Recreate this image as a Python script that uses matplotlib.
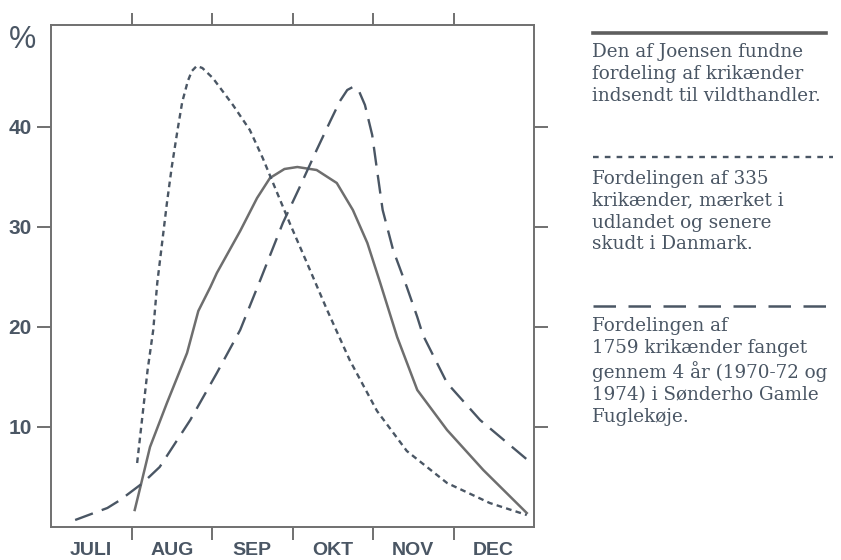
import matplotlib
matplotlib.use("Agg")
import matplotlib.pyplot as plt
from matplotlib.lines import Line2D

# x in months from 1 July (0 = start of JULI), y in %
joensen_x = [1.04, 1.11, 1.23, 1.44, 1.69, 1.83, 1.98, 2.06, 2.35, 2.56, 2.72, 2.90,
             3.06, 3.30, 3.55, 3.75, 3.93, 4.09, 4.30, 4.55, 4.92, 5.37, 5.91]
joensen_y = [1.7, 4.0, 8.0, 12.4, 17.4, 21.6, 24.0, 25.4, 29.6, 32.9, 34.9, 35.8,
             36.0, 35.7, 34.4, 31.7, 28.4, 24.4, 19.0, 13.7, 9.7, 5.7, 1.4]

marked_x = [1.07, 1.14, 1.20, 1.27, 1.32, 1.38, 1.44, 1.50, 1.57, 1.63, 1.70, 1.75,
            1.81, 1.88, 2.01, 2.26, 2.47, 2.63, 2.81, 2.97, 3.18, 3.43, 3.71, 4.05,
            4.42, 4.92, 5.45, 5.91]
marked_y = [6.4, 11.4, 15.7, 19.7, 24.4, 28.4, 32.4, 36.0, 39.6, 42.5, 44.6, 45.6,
            46.1, 45.9, 44.9, 42.2, 39.7, 36.9, 33.4, 30.3, 26.4, 21.7, 16.7, 11.6,
            7.6, 4.4, 2.4, 1.2]

fanget_x = [0.30, 0.70, 0.86, 1.14, 1.35, 1.73, 2.06, 2.35, 2.60, 2.88, 3.09, 3.30,
            3.47, 3.59, 3.68, 3.75, 3.82, 3.90, 3.99, 4.05, 4.12, 4.25, 4.42, 4.55,
            4.62, 4.92, 5.33, 5.95]
fanget_y = [0.7, 1.9, 2.7, 4.4, 6.0, 10.7, 15.4, 19.7, 24.7, 30.4, 34.0, 37.7,
            40.6, 42.6, 43.7, 44.0, 43.7, 42.2, 39.2, 35.7, 31.7, 27.7, 24.0, 21.0,
            19.2, 14.4, 10.7, 6.5]

months = ["JULI", "AUG", "SEP", "OKT", "NOV", "DEC"]
y_ticks = [10, 20, 30, 40]

legend_texts = [
    "Den af Joensen fundne\nfordeling af krikænder\nindsendt til vildthandler.",
    "Fordelingen af 335\nkrikænder, mærket i\nudlandet og senere\nskudt i Danmark.",
    "Fordelingen af\n1759 krikænder fanget\ngennem 4 år (1970-72 og\n1974) i Sønderho Gamle\nFuglekøje.",
]

frame_col = "#707070"
ink = "#4a5664"
solid_col = "#6e6e6e"

fig = plt.figure(figsize=(8.41, 5.6), dpi=100)
ax = fig.add_axes([51 / 841, 33 / 560, 483 / 841, 502 / 560])

ax.plot(joensen_x, joensen_y, color=solid_col, lw=1.8, solid_joinstyle="round")
ax.plot(marked_x, marked_y, color=ink, lw=1.7, dashes=(2.4, 1.8))
ax.plot(fanget_x, fanget_y, color=ink, lw=1.7, dashes=(8, 4))

ax.set_xlim(0, 6)
ax.set_ylim(0, 50.2)

for s in ax.spines.values():
    s.set_color(frame_col)
    s.set_linewidth(1.4)

ax.set_xticks([1, 2, 3, 4, 5])
ax.set_xticklabels([])
ax.set_xticks([i + 0.5 for i in range(6)], minor=True)
ax.set_xticklabels(months, minor=True, fontsize=14, fontweight="bold",
                   color=ink, family="Liberation Sans")
ax.tick_params(axis="x", which="major", direction="out", length=9, width=1.4,
               color=frame_col, top=True, bottom=True)
ax.tick_params(axis="x", which="minor", length=0, pad=10.5)

ax.set_yticks(y_ticks)
ax.set_yticklabels([str(v) for v in y_ticks], fontsize=15, fontweight="bold",
                   color=ink, family="Liberation Sans")
ax.tick_params(axis="y", direction="out", length=10, width=1.4, color=frame_col,
               left=True, right=True, pad=4)

fig.text(23 / 841, 1 - 40 / 560, "%", fontsize=22, color=ink, ha="center",
         va="center", family="Liberation Sans")

# legend on the right, in figure pixels
def fx(px):
    return px / 841

def fy(py):
    return 1 - py / 560

fig.add_artist(Line2D([fx(593), fx(826)], [fy(33), fy(33)], color="#5e5e5e", lw=2.6))
fig.add_artist(Line2D([fx(593), fx(833)], [fy(157), fy(157)], color=ink, lw=1.7,
                      dashes=(2.4, 2.6)))
fig.add_artist(Line2D([fx(593), fx(826)], [fy(306), fy(306)], color=ink, lw=1.8,
                      dashes=(9, 5)))

text_tops = [43, 170, 317]
for txt, top in zip(legend_texts, text_tops):
    fig.text(fx(592), fy(top), txt, fontsize=13.2, color=ink, ha="left", va="top",
             family="DejaVu Serif", linespacing=1.27)

fig.savefig("out.png", dpi=100)
